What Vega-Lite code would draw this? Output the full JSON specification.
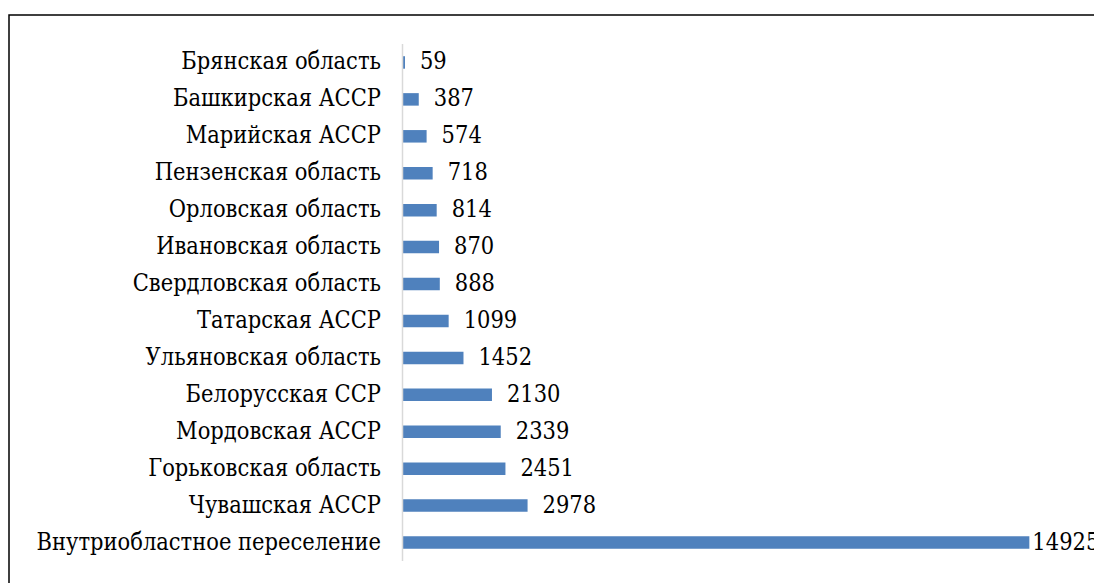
{
  "$schema": "https://vega.github.io/schema/vega-lite/v6.json",
  "width": 1091,
  "height": 575,
  "autosize": {"type": "none"},
  "padding": {"left": 9, "top": 15, "right": 0, "bottom": 0},
  "background": "white",
  "config": {
    "view": {"stroke": "#000000", "strokeWidth": 1.5},
    "font": "DejaVu Serif Condensed"
  },
  "data": {
    "values": [
      {"region": "Брянская область", "value": 59},
      {"region": "Башкирская АССР", "value": 387},
      {"region": "Марийская АССР", "value": 574},
      {"region": "Пензенская область", "value": 718},
      {"region": "Орловская область", "value": 814},
      {"region": "Ивановская область", "value": 870},
      {"region": "Свердловская область", "value": 888},
      {"region": "Татарская АССР", "value": 1099},
      {"region": "Ульяновская область", "value": 1452},
      {"region": "Белорусская ССР", "value": 2130},
      {"region": "Мордовская АССР", "value": 2339},
      {"region": "Горьковская область", "value": 2451},
      {"region": "Чувашская АССР", "value": 2978},
      {"region": "Внутриобластное переселение\u00a0", "value": 14925}
    ]
  },
  "layer": [
    {
      "mark": {"type": "bar", "color": "#4F81BD", "size": 12.5},
      "encoding": {
        "y": {
          "field": "region",
          "type": "nominal",
          "scale": {
            "domain": ["Брянская область", "Башкирская АССР", "Марийская АССР", "Пензенская область", "Орловская область", "Ивановская область", "Свердловская область", "Татарская АССР", "Ульяновская область", "Белорусская ССР", "Мордовская АССР", "Горьковская область", "Чувашская АССР", "Внутриобластное переселение\u00a0"],
            "paddingInner": 0,
            "paddingOuter": 0.785
          },
          "axis": {
            "title": null,
            "orient": "left",
            "offset": -393.5,
            "domain": false,
            "ticks": false,
            "grid": false,
            "labelPadding": 22,
            "labelFontSize": 23.4,
            "labelFont": "DejaVu Serif Condensed",
            "labelColor": "#000000",
            "labelLimit": 600
          }
        },
        "x": {
          "field": "value",
          "type": "quantitative",
          "scale": {"domain": [-9369, 16607], "nice": false, "zero": true},
          "axis": null
        }
      }
    },
    {
      "data": {"values": [{"first": "Брянская область", "last": "Внутриобластное переселение\u00a0"}]},
      "mark": {"type": "rule", "color": "#D9D9D9", "strokeWidth": 1.5},
      "encoding": {
        "x": {"datum": 0, "type": "quantitative"},
        "y": {"field": "first", "type": "nominal", "bandPosition": 0},
        "y2": {"field": "last", "bandPosition": 1}
      }
    },
    {
      "transform": [{"filter": "datum.value < 10000"}],
      "mark": {"type": "text", "align": "left", "baseline": "middle", "dx": 15, "fontSize": 23.4, "font": "DejaVu Serif Condensed", "color": "#000000"},
      "encoding": {
        "y": {"field": "region", "type": "nominal"},
        "x": {"field": "value", "type": "quantitative"},
        "text": {"field": "value", "type": "quantitative", "format": "d"}
      }
    },
    {
      "transform": [{"filter": "datum.value >= 10000"}],
      "mark": {"type": "text", "align": "left", "baseline": "middle", "dx": 3, "fontSize": 23.4, "font": "DejaVu Serif Condensed", "color": "#000000"},
      "encoding": {
        "y": {"field": "region", "type": "nominal"},
        "x": {"field": "value", "type": "quantitative"},
        "text": {"field": "value", "type": "quantitative", "format": "d"}
      }
    }
  ]
}
